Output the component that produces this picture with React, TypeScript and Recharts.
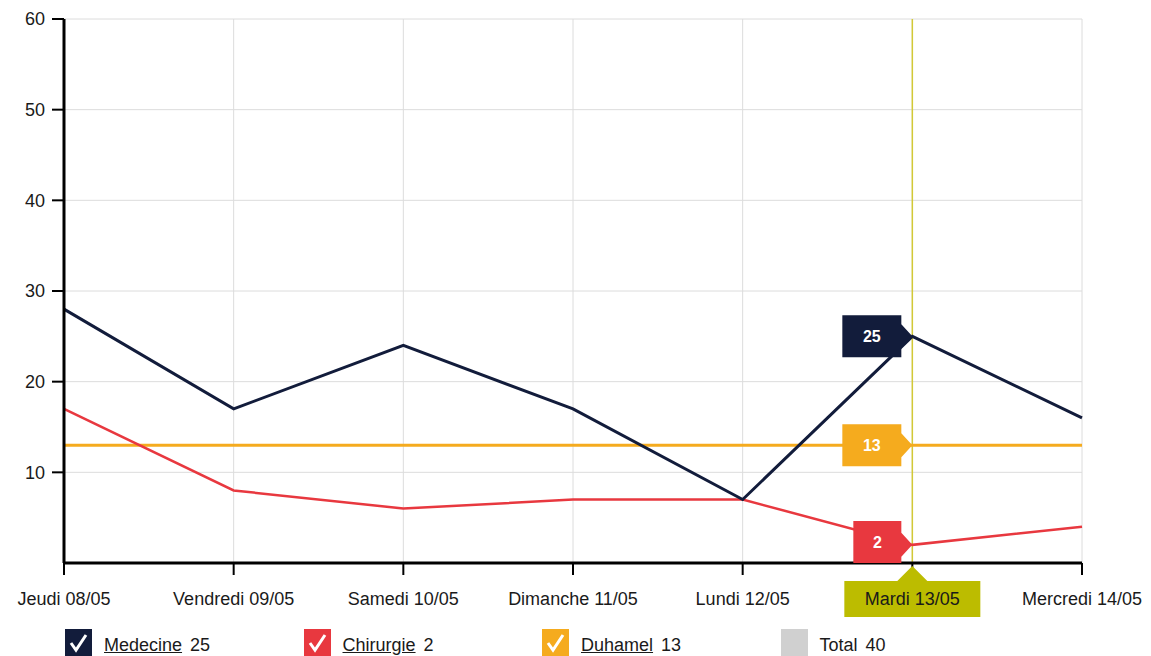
import { LineChart, Line, XAxis, YAxis, CartesianGrid, ReferenceLine } from "recharts";

const days = [
  "Jeudi 08/05",
  "Vendredi 09/05",
  "Samedi 10/05",
  "Dimanche 11/05",
  "Lundi 12/05",
  "Mardi 13/05",
  "Mercredi 14/05",
];
const medecine = [28, 17, 24, 17, 7, 25, 16];
const chirurgie = [17, 8, 6, 7, 7, 2, 4];
const duhamel = [13, 13, 13, 13, 13, 13, 13];
const yTicks = [10, 20, 30, 40, 50, 60];
const selectedDay = "Mardi 13/05";
const selectedIndex = 5;
const legendItems = [
  { name: "Medecine", value: 25, color: "#121c3b", check: true, link: true },
  { name: "Chirurgie", value: 2, color: "#e8383f", check: true, link: true },
  { name: "Duhamel", value: 13, color: "#f5ab1e", check: true, link: true },
  { name: "Total", value: 40, color: "#d0d0d0", check: false, link: false },
];

const data = days.map((d, i) => ({
  name: d,
  medecine: medecine[i],
  chirurgie: chirurgie[i],
  duhamel: duhamel[i],
}));

const FONT = "'Liberation Sans', Arial, sans-serif";
const PLOT_BOTTOM = 563;

function flag(color: string) {
  return (props: any) => {
    const { x, y, value, index } = props;
    if (index !== selectedIndex) return null;
    const w = String(value).length > 1 ? 59 : 48;
    const h = 42;
    const right = x - 11;
    const top = Math.min(y - h / 2, PLOT_BOTTOM - h);
    const d = `M${right - w},${top} H${right} V${y - 12} L${x},${y} L${right},${y + 12} V${top + h} H${right - w} Z`;
    return (
      <g>
        <path d={d} fill={color} />
        <text
          x={right - w / 2}
          y={top + h / 2 + 6}
          textAnchor="middle"
          fill="#fff"
          fontSize={16}
          fontWeight="bold"
          fontFamily={FONT}
        >
          {value}
        </text>
      </g>
    );
  };
}

function XTick(props: any) {
  const { x, payload } = props;
  const sel = payload.value === selectedDay;
  return (
    <g>
      {sel && (
        <g>
          <path d={`M${x},${566} L${x + 15},${581} L${x - 15},${581} Z`} fill="#bcbc00" />
          <rect x={x - 68} y={581} width={136} height={36} fill="#bcbc00" />
        </g>
      )}
      <text x={x} y={605} textAnchor="middle" fill="#1a1a1a" fontSize={18} fontFamily={FONT}>
        {payload.value}
      </text>
    </g>
  );
}

function Check() {
  return (
    <svg width={27} height={27} style={{ position: "absolute", left: 0, top: 0 }}>
      <polyline points="6,14 11,21 21,6" fill="none" stroke="#fff" strokeWidth={3} />
    </svg>
  );
}

export default function App() {
  return (
    <div style={{ position: "absolute", left: 0, top: 0, width: 1151, height: 656, background: "#fff", overflow: "hidden" }}>
      <LineChart width={1151} height={656} data={data} margin={{ top: 19, right: 69, left: 4, bottom: 63 }}>
        <CartesianGrid stroke="#dcdcdc" strokeWidth={1} />
        <XAxis
          dataKey="name"
          height={30}
          tickSize={12}
          axisLine={{ stroke: "#000", strokeWidth: 3 }}
          tickLine={{ stroke: "#000", strokeWidth: 2 }}
          tick={<XTick />}
          interval={0}
        />
        <YAxis
          width={60}
          domain={[0, 60]}
          ticks={yTicks}
          tickSize={12}
          tickMargin={7}
          axisLine={{ stroke: "#000", strokeWidth: 3 }}
          tickLine={{ stroke: "#000", strokeWidth: 2 }}
          tick={{ fill: "#1a1a1a", fontSize: 18, fontFamily: FONT }}
        />
        <ReferenceLine x={selectedDay} stroke="#d2c936" strokeWidth={1.5} />
        <Line
          dataKey="duhamel"
          stroke="#f5ab1e"
          strokeWidth={3}
          dot={false}
          isAnimationActive={false}
          label={flag("#f5ab1e")}
        />
        <Line
          dataKey="chirurgie"
          stroke="#e8383f"
          strokeWidth={2.5}
          dot={false}
          isAnimationActive={false}
          label={flag("#e8383f")}
        />
        <Line
          dataKey="medecine"
          stroke="#121c3b"
          strokeWidth={3}
          dot={false}
          isAnimationActive={false}
          label={flag("#121c3b")}
        />
      </LineChart>
      {legendItems.map((it, i) => (
        <div
          key={it.name}
          style={{
            position: "absolute",
            left: 65 + i * 238.5,
            top: 629,
            height: 27,
            display: "flex",
            alignItems: "center",
            fontFamily: FONT,
            fontSize: 18,
            color: "#1a1a1a",
            whiteSpace: "nowrap",
          }}
        >
          <div style={{ position: "relative", width: 27, height: 27, background: it.color, marginRight: 12 }}>
            {it.check && <Check />}
          </div>
          <span style={{ textDecoration: it.link ? "underline" : "none", marginTop: 6 }}>{it.name}</span>
          <span style={{ marginLeft: 8, marginTop: 6 }}>{it.value}</span>
        </div>
      ))}
    </div>
  );
}
